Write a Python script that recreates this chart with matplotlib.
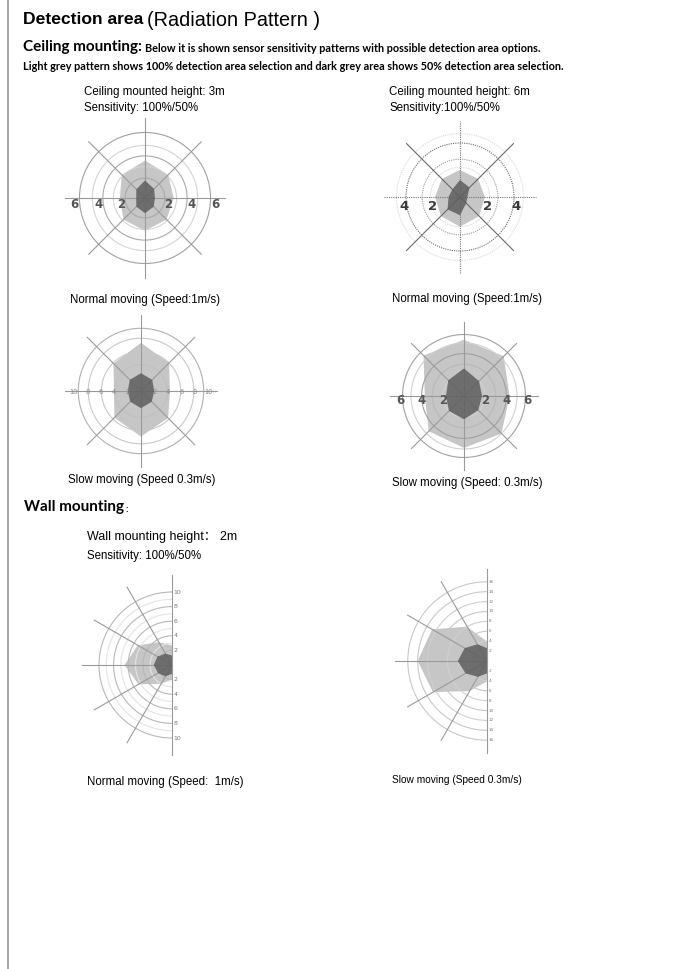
import numpy as np
import matplotlib.pyplot as plt
from matplotlib.patches import Circle, Arc

W, H = 674, 969

# pattern radii in metres
angles8 = [0, 45, 90, 135, 180, 225, 270, 315]
angles_wall = [90, 120, 150, 180, 210, 240, 270]

c3_norm_light = [2.45, 2.8, 3.2, 2.8, 2.15, 2.6, 2.8, 2.6]
c3_norm_dark = [0.85, 1.1, 1.5, 1.05, 0.75, 1.05, 1.3, 1.05]
c6_norm_light = [1.85, 1.9, 2.0, 1.9, 1.85, 2.0, 2.2, 2.0]
c6_norm_dark = [0.55, 1.0, 1.26, 0.8, 0.85, 1.3, 1.35, 0.65]
c3_slow_light = [4.4, 6.0, 7.3, 5.9, 4.1, 5.7, 6.9, 5.8]
c3_slow_dark = [2.0, 2.4, 2.7, 2.4, 2.0, 2.3, 2.6, 2.3]
c6_slow_light = [4.3, 5.3, 5.3, 5.4, 3.7, 4.7, 4.9, 5.0]
c6_slow_dark = [1.7, 2.0, 2.6, 2.1, 1.7, 2.0, 2.2, 1.9]
wall_norm_light = [2.7, 3.6, 5.4, 6.5, 5.3, 3.0, 2.0]
wall_norm_dark = [1.3, 1.8, 2.3, 2.5, 2.2, 1.8, 1.2]
wall_slow_light = [3.9, 8.0, 12.8, 14.0, 12.6, 7.0, 4.1]
wall_slow_dark = [2.6, 3.9, 5.2, 5.9, 5.0, 3.7, 2.5]

c3_norm_ticks = [2, 4, 6]
c6_norm_ticks = [2, 4]
c3_slow_ticks = [2, 4, 6, 8, 10]
c6_slow_ticks = [2, 4, 6]
wall_norm_ticks = [2, 4, 6, 8, 10]
wall_slow_ticks = [2, 4, 6, 8, 10, 12, 14, 16]

LIGHT = '#c6c6c6'
DARK = '#5e5e5e'
SANS = 'Liberation Sans'
CAL = 'Lato'

fig = plt.figure(figsize=(W / 100, H / 100), dpi=100)
renderer = fig.canvas.get_renderer()


def px(x, y):
    return x / W, 1 - y / H


def txt(x, y, s, size=8.3, **kw):
    kw.setdefault('family', SANS)
    return fig.text(*px(x, y), s, fontsize=size, va='center', ha='left', **kw)


def after(t, gap=0):
    # right edge of a text, in pixels
    return t.get_window_extent(renderer).x1 + gap


def make_ax(cx, cy, scale, half=110):
    ax = fig.add_axes([(cx - half) / W, 1 - (cy + half) / H, 2 * half / W, 2 * half / H])
    lim = half / scale
    ax.set_xlim(-lim, lim)
    ax.set_ylim(-lim, lim)
    ax.axis('off')
    return ax


def shape(ax, angles, r, color, z, alpha=1):
    t = np.deg2rad(angles)
    r = np.array(r)
    ax.fill(r * np.cos(t), r * np.sin(t), color=color, lw=0, zorder=z, alpha=alpha)


def ceiling(ax, scale, light, dark, rings, ring_cols, spoke, ticks, tick_k, tick_size,
            ring_ls='-', axis_ls='-', diag_col='#9a9a9a', axis_col='#9a9a9a',
            tick_col='#555555', weight='bold', tick_dy=7):
    shape(ax, angles8, light, LIGHT, 1)
    shape(ax, angles8, dark, DARK, 3, alpha=0.85)
    for r, c in zip(rings, ring_cols):
        ax.add_patch(Circle((0, 0), r, fill=False, ec=c, lw=0.8, ls=ring_ls, zorder=2))
    for a in [0, 90]:
        t = np.deg2rad(a)
        ax.plot([-spoke * np.cos(t), spoke * np.cos(t)], [-spoke * np.sin(t), spoke * np.sin(t)],
                color=axis_col, lw=0.8, ls=axis_ls, zorder=2)
    for a in [45, 135]:
        t = np.deg2rad(a)
        ax.plot([-spoke * np.cos(t), spoke * np.cos(t)], [-spoke * np.sin(t), spoke * np.sin(t)],
                color=diag_col, lw=0.8, zorder=2)
    for t in ticks:
        for s in (-1, 1):
            ax.text(s * t * tick_k, -tick_dy / scale, str(t), ha='center', va='center',
                    fontsize=tick_size, color=tick_col, weight=weight, family='DejaVu Sans', zorder=4)


def wall(ax, light, dark, rings, ring_cols, spoke, ticks, tick_size):
    shape(ax, angles_wall, light, LIGHT, 1)
    shape(ax, angles_wall, dark, DARK, 3, alpha=0.85)
    for r, c in zip(rings, ring_cols):
        ax.add_patch(Arc((0, 0), 2 * r, 2 * r, theta1=90, theta2=270, ec=c, lw=0.8, zorder=2))
    for a in [120, 150, 180, 210, 240]:
        t = np.deg2rad(a)
        ax.plot([0, spoke * np.cos(t)], [0, spoke * np.sin(t)], color='#9a9a9a', lw=0.8, zorder=2)
    ax.plot([0, 0], [-spoke, spoke], color='#9a9a9a', lw=0.8, zorder=2)
    for t in ticks:
        for s in (-1, 1):
            ax.text(0.02 * spoke, s * t, str(t), ha='left', va='center',
                    fontsize=tick_size, color='#777777', family='DejaVu Sans', zorder=4)


# page frame line
fig.add_artist(plt.Line2D([8 / W, 8 / W], [0, 1], color='#9a9a9a', lw=1.2))

# header
t = fig.text(*px(23, 20), 'Detection area', fontsize=12.6, weight='bold', family=SANS, va='center')
fig.text(*px(after(t, 4), 20), '(Radiation Pattern )', fontsize=14.3, family=SANS, va='center')
t = fig.text(*px(23, 47), 'Ceiling mounting:', fontsize=11, weight='bold', family=CAL, va='center')
fig.text(*px(after(t, 3), 48), 'Below it is shown sensor sensitivity patterns with possible detection area options.',
         fontsize=7.8, weight='bold', family=CAL, va='center')
fig.text(*px(23, 66), 'Light grey pattern shows 100% detection area selection and dark grey area shows '
         '50% detection area selection.', fontsize=7.8, weight='bold', family=CAL, va='center')

txt(84, 92, 'Ceiling mounted height: 3m')
txt(84, 108, 'Sensitivity: 100%/50%')
txt(389, 92, 'Ceiling mounted height: 6m')
txt(389, 108, 'Sensitivity:100%/50%')

# ceiling, 3 m, normal moving
ax = make_ax(145, 198, 11.7)
ceiling(ax, 11.7, c3_norm_light, c3_norm_dark, [1.7, 2.7, 3.6, 4.5, 5.6],
        ['#a8a8a8', '#d4d4d4', '#a8a8a8', '#d4d4d4', '#a0a0a0'],
        6.8, c3_norm_ticks, 1.0, 8.5)

# ceiling, 6 m, normal moving
ax = make_ax(460, 197, 13.5)
ceiling(ax, 13.5, c6_norm_light, c6_norm_dark, [2.2, 2.8, 4.0, 4.7],
        ['#d4d4d4', '#9a9a9a', '#6a6a6a', '#d8d8d8'],
        5.6, c6_norm_ticks, 1.03, 9.5, ring_ls=(0, (1, 1)), axis_ls=(0, (1, 1)),
        diag_col='#6a6a6a', axis_col='#777777', tick_col='#3a3a3a', tick_dy=10)

txt(70, 300, 'Normal moving (Speed:1m/s)')
txt(392, 299, 'Normal moving (Speed:1m/s)')

# ceiling, 3 m, slow moving
ax = make_ax(141, 391, 6.6)
ceiling(ax, 6.6, c3_slow_light, c3_slow_dark, [2, 4, 6, 8, 9.5],
        ['#c0c0c0', '#c0c0c0', '#c8c8c8', '#c8c8c8', '#b0b0b0'],
        11.5, c3_slow_ticks, 1.02, 4.8, tick_col='#888888', weight='normal', tick_dy=1)

# ceiling, 6 m, slow moving
ax = make_ax(464, 396, 10.6)
ceiling(ax, 10.6, c6_slow_light, c6_slow_dark, [1, 2, 3, 4, 5, 5.8],
        ['#d0d0d0', '#d0d0d0', '#b8b8b8', '#a0a0a0', '#d0d0d0', '#a0a0a0'],
        7.0, c6_slow_ticks, 1.0, 8.5, tick_dy=5)

txt(68, 480, 'Slow moving (Speed 0.3m/s)')
txt(392, 483, 'Slow moving (Speed: 0.3m/s)')

# wall mounting
t = fig.text(*px(24, 507), 'Wall mounting', fontsize=11, weight='bold', family=CAL, va='center')
fig.text(*px(after(t, 1), 509), ':', fontsize=7, weight='bold', family=CAL, va='center')
txt(87, 537, 'Wall mounting height\uff1a 2m', size=9, family=['Liberation Sans', 'Noto Sans CJK SC'])
txt(87, 556, 'Sensitivity: 100%/50%')

ax = make_ax(172, 665, 7.3, half=120)
wall(ax, wall_norm_light, wall_norm_dark, list(range(1, 11)),
     ['#e4e4e4', '#b8b8b8'] * 5, 12.3, wall_norm_ticks, 4.5)

ax = make_ax(487, 661, 4.95, half=120)
wall(ax, wall_slow_light, wall_slow_dark, [2, 4, 6, 8, 10, 12, 14, 16],
     ['#d0d0d0', '#d0d0d0', '#c8c8c8', '#d0d0d0', '#c8c8c8', '#d0d0d0', '#c8c8c8', '#c8c8c8'],
     18.5, wall_slow_ticks, 3)

txt(87, 782, 'Normal moving (Speed:  1m/s)')
txt(392, 780, 'Slow moving (Speed 0.3m/s)', size=7.3)

fig.savefig('out.png', dpi=100)
